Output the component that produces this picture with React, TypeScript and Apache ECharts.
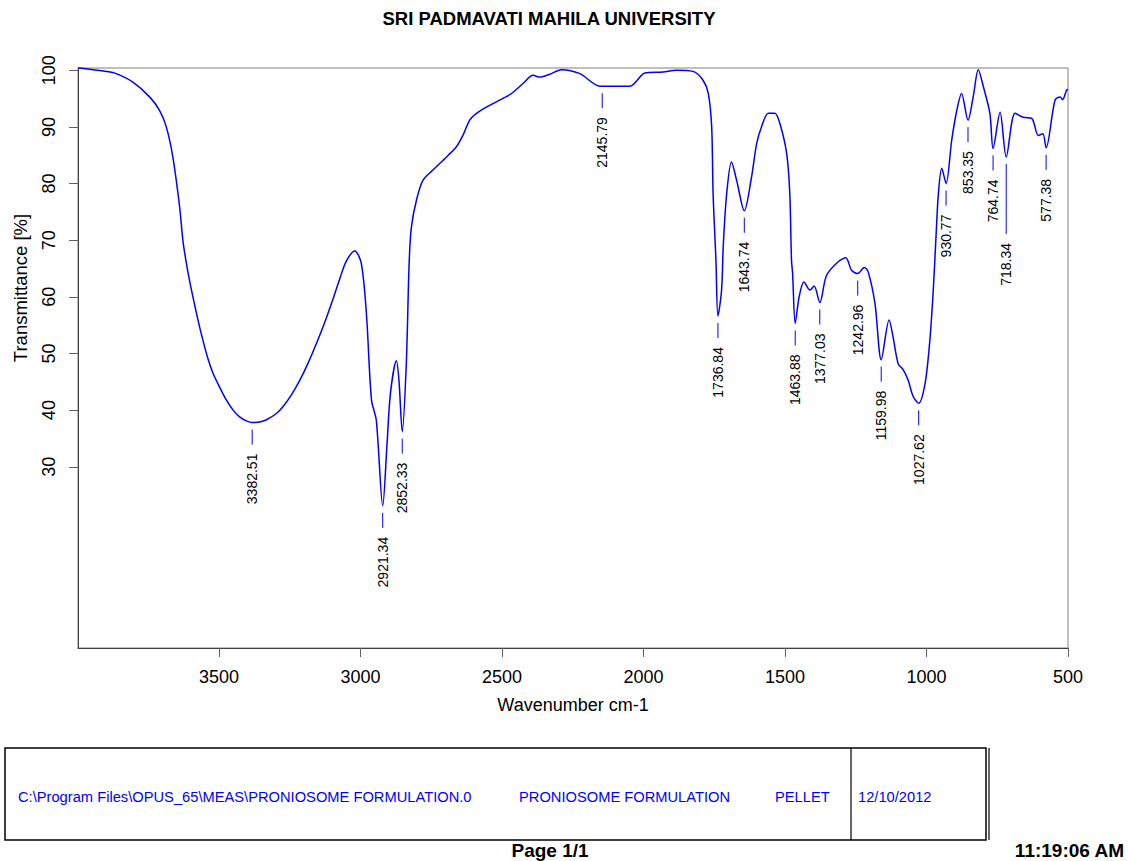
import React, { useEffect, useRef } from "react";
import * as echarts from "echarts";

// IR spectrum sampled along the trace (wavenumber in cm-1, transmittance in %)
const wavenumbers = [
  3998, 3957, 3898, 3863, 3804, 3745, 3710, 3686, 3663, 3639, 3627, 3615, 3604, 3592,
  3574, 3557, 3539, 3521, 3498, 3474, 3450, 3427, 3403, 3382.51, 3356, 3332, 3297,
  3274, 3244, 3215, 3185, 3156, 3126, 3097, 3073, 3050, 3020, 2997, 2979, 2961,
  2944, 2921.34, 2906, 2894, 2873, 2864, 2852.33, 2838, 2828, 2820, 2802, 2779, 2744,
  2696, 2661, 2638, 2614, 2590, 2555, 2490, 2466, 2425, 2390, 2366, 2331, 2290, 2225, 2154,
  2145.79, 2048, 1995, 1931, 1883, 1825, 1789, 1771, 1759, 1754, 1744, 1736.84, 1724,
  1718, 1706, 1689, 1671, 1643.74, 1618, 1600, 1583, 1559, 1536, 1518, 1494, 1483,
  1477, 1473, 1463.88, 1450, 1433, 1412, 1397, 1377.03, 1353, 1312, 1285, 1265,
  1242.96, 1220, 1206, 1182, 1159.98, 1132, 1118, 1100, 1082, 1065, 1047, 1027.62,
  1005, 988, 976, 967, 958, 946, 930.77, 911, 893, 876, 853.35, 835, 817, 799, 776,
  764.74, 740, 718.34, 687, 658, 628, 605, 589, 577.38, 546, 528, 519, 505, 500,
];
const transmittance = [
  100.4, 100.2, 99.8, 99.4, 97.9, 95.3, 92.9, 90.0, 84.7, 75.9, 69.8, 65.9, 62.9, 60.0,
  55.9, 52.4, 49.1, 46.5, 44.1, 41.8, 40.0, 38.8, 38.1, 37.8, 37.9, 38.3, 39.4,
  40.6, 42.7, 45.2, 48.3, 51.7, 55.5, 59.6, 63.2, 66.3, 68.1, 65.9, 57.1, 41.8,
  38.2, 23.1, 34.1, 43.0, 48.7, 45.3, 36.2, 48.2, 65.9, 72.3, 77.1, 80.6, 82.4,
  84.7, 86.5, 88.5, 91.2, 92.4, 93.5, 95.2, 95.9, 97.7, 99.1, 98.8, 99.3, 100.1, 99.4, 97.2,
  97.2, 97.2, 99.5, 99.7, 100.0, 99.8, 98.2, 95.9, 90.0, 78.2, 66.5, 56.6, 61.2,
  69.1, 78.2, 83.8, 80.6, 75.2, 81.2, 87.1, 90.0, 92.4, 92.4, 90.6, 85.3, 78.2,
  66.5, 64.1, 55.3, 60.0, 62.6, 61.2, 61.9, 59.0, 63.8, 66.2, 66.9, 64.7,
  64.1, 65.2, 64.4, 58.8, 48.9, 55.9, 52.9, 48.2, 47.1, 45.3, 42.4, 41.2,
  44.7, 52.4, 61.2, 70.0, 78.2, 82.7, 80.0, 87.6, 92.9, 95.9, 91.2, 95.3, 100.1, 97.1, 92.4,
  86.2, 92.6, 84.7, 92.4, 91.7, 91.5, 88.5, 88.8, 86.3, 94.7, 95.3, 94.8, 96.5, 96.6,
];

// Picked peaks
const peakWavenumbers = [
  3382.51, 2921.34, 2852.33, 2145.79, 1736.84, 1643.74, 1463.88, 1377.03,
  1242.96, 1159.98, 1027.62, 930.77, 853.35, 764.74, 718.34, 577.38,
];
const peakTransmittance = [
  37.8, 23.1, 36.2, 97.2, 56.6, 75.2, 55.3, 59.0,
  64.1, 48.9, 41.2, 80.0, 91.2, 86.2, 84.7, 86.3,
];

const xTickValues = [3500, 3000, 2500, 2000, 1500, 1000, 500];
const yTickValues = [30, 40, 50, 60, 70, 80, 90, 100];

const FONT = '"Liberation Sans", Arial, Helvetica, sans-serif';
const BLUE = "#0000ff";

// longer leader for labels that would otherwise collide with a neighbour
const leaderExtra: Record<string, number> = { "718.34": 55 };

export default function App() {
  const ref = useRef<HTMLDivElement>(null);

  useEffect(() => {
    if (!ref.current) return;
    const chart = echarts.init(ref.current, null, { renderer: "svg" });

    const spectrum = wavenumbers.map((w, i) => [w, transmittance[i]]);
    const peaks = peakWavenumbers.map((w, i) => [
      w,
      peakTransmittance[i],
      leaderExtra[w.toFixed(2)] || 0,
    ]);

    chart.setOption({
      animation: false,
      backgroundColor: "#ffffff",
      textStyle: { fontFamily: FONT },
      grid: {
        left: 78,
        right: 60,
        top: 68,
        bottom: 213,
        show: true,
        borderColor: "#808080",
        borderWidth: 1,
      },
      xAxis: {
        type: "value",
        min: 500,
        max: 3998,
        inverse: true,
        name: "Wavenumber cm-1",
        nameLocation: "middle",
        nameGap: 48,
        nameTextStyle: { fontSize: 18, color: "#000", fontFamily: FONT },
        axisLine: { show: true, onZero: false, lineStyle: { color: "#404040", width: 1 } },
        axisTick: {
          show: true,
          length: 9,
          customValues: xTickValues,
          lineStyle: { color: "#606060" },
        },
        axisLabel: {
          customValues: xTickValues,
          formatter: (v: number) => String(v),
          fontSize: 18,
          color: "#000",
          margin: 20,
          fontFamily: FONT,
        },
        splitLine: { show: false },
      },
      yAxis: {
        type: "value",
        min: -2,
        max: 100.4,
        axisLine: { show: true, onZero: false, lineStyle: { color: "#404040", width: 1 } },
        axisTick: {
          show: true,
          length: 9,
          customValues: yTickValues,
          lineStyle: { color: "#606060" },
        },
        axisLabel: {
          customValues: yTickValues,
          formatter: (v: number) => String(v),
          rotate: 90,
          fontSize: 18,
          color: "#000",
          margin: 20,
          fontFamily: FONT,
        },
        splitLine: { show: false },
      },
      series: [
        {
          type: "line",
          data: spectrum,
          showSymbol: false,
          smooth: 0.3,
          lineStyle: { color: BLUE, width: 1.5 },
          clip: false,
          silent: true,
        },
        {
          type: "custom",
          data: peaks,
          clip: false,
          silent: true,
          renderItem: (_params: any, api: any) => {
            const w = api.value(0);
            const t = api.value(1);
            const extra = api.value(2);
            const p = api.coord([w, t]);
            return {
              type: "group",
              children: [
                {
                  type: "line",
                  shape: { x1: p[0], y1: p[1] + 7, x2: p[0], y2: p[1] + 22 + extra },
                  style: { stroke: BLUE, lineWidth: 1 },
                },
                {
                  type: "text",
                  x: p[0],
                  y: p[1] + 31 + extra,
                  rotation: Math.PI / 2,
                  style: {
                    text: w.toFixed(2),
                    fill: "#000",
                    fontSize: 14,
                    fontFamily: FONT,
                    align: "right",
                    verticalAlign: "middle",
                  },
                },
              ],
            };
          },
        },
      ],
      graphic: [
        {
          type: "text",
          x: 549,
          y: 18,
          style: {
            text: "SRI PADMAVATI MAHILA UNIVERSITY",
            fill: "#000",
            font: `bold 18.5px ${FONT}`,
            align: "center",
            verticalAlign: "middle",
          },
        },
        {
          type: "text",
          x: 20,
          y: 288,
          rotation: Math.PI / 2,
          style: {
            text: "Transmittance [%]",
            fill: "#000",
            font: `18.5px ${FONT}`,
            align: "center",
            verticalAlign: "middle",
          },
        },
        {
          type: "rect",
          shape: { x: 5, y: 748, width: 981, height: 92 },
          style: { fill: "none", stroke: "#000", lineWidth: 1.5 },
        },
        {
          type: "line",
          shape: { x1: 989, y1: 748, x2: 989, y2: 840 },
          style: { stroke: "#000", lineWidth: 1.2 },
        },
        {
          type: "line",
          shape: { x1: 851, y1: 748, x2: 851, y2: 840 },
          style: { stroke: "#000", lineWidth: 1.2 },
        },
        {
          type: "text",
          x: 18,
          y: 797,
          style: {
            text: "C:\\Program Files\\OPUS_65\\MEAS\\PRONIOSOME FORMULATION.0",
            fill: BLUE,
            font: `14.7px ${FONT}`,
            align: "left",
            verticalAlign: "middle",
          },
        },
        {
          type: "text",
          x: 519,
          y: 797,
          style: {
            text: "PRONIOSOME FORMULATION",
            fill: BLUE,
            font: `14.7px ${FONT}`,
            align: "left",
            verticalAlign: "middle",
          },
        },
        {
          type: "text",
          x: 775,
          y: 797,
          style: {
            text: "PELLET",
            fill: BLUE,
            font: `14.7px ${FONT}`,
            align: "left",
            verticalAlign: "middle",
          },
        },
        {
          type: "text",
          x: 858,
          y: 797,
          style: {
            text: "12/10/2012",
            fill: BLUE,
            font: `14.7px ${FONT}`,
            align: "left",
            verticalAlign: "middle",
          },
        },
        {
          type: "text",
          x: 550,
          y: 850,
          style: {
            text: "Page 1/1",
            fill: "#000",
            font: `bold 19px ${FONT}`,
            align: "center",
            verticalAlign: "middle",
          },
        },
        {
          type: "text",
          x: 1124,
          y: 850,
          style: {
            text: "11:19:06 AM",
            fill: "#000",
            font: `bold 19px ${FONT}`,
            align: "right",
            verticalAlign: "middle",
          },
        },
      ],
    });

    return () => chart.dispose();
  }, []);

  return (
    <div
      ref={ref}
      style={{
        position: "absolute",
        left: 0,
        top: 0,
        width: 1128,
        height: 861,
        background: "#fff",
      }}
    />
  );
}
